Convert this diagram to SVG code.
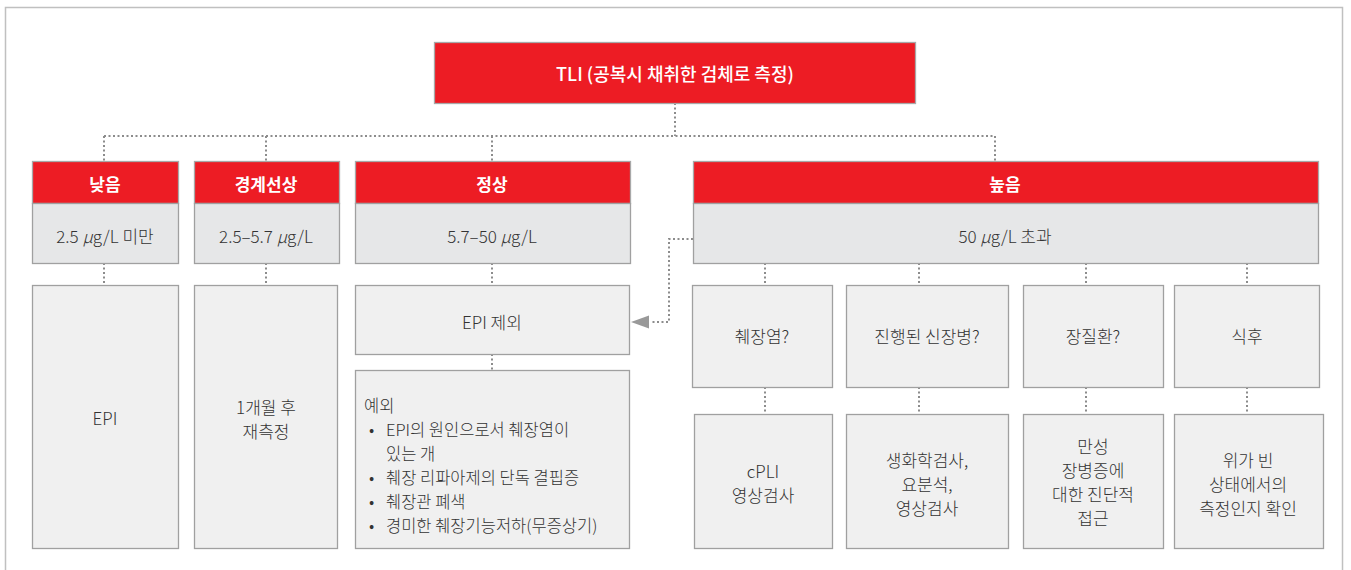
<svg xmlns="http://www.w3.org/2000/svg" width="1351" height="570" viewBox="0 0 1351 570">
<style>
text{font-family:"Noto Sans CJK KR","Noto Sans",sans-serif;fill:#333;font-size:17px;font-weight:300;text-anchor:middle;dominant-baseline:central}
.hd{fill:#ED1C24;stroke:#A8A8A8;stroke-width:1.3}
.ht{fill:#fff;font-weight:bold}
.tt{fill:#fff;font-weight:500;font-size:18px}
.g1{fill:#E6E7E8;stroke:#A0A0A0;stroke-width:1.3}
.g2{fill:#F0F0F0;stroke:#A0A0A0;stroke-width:1.3}
.dl{fill:none;stroke:#8C8C8C;stroke-width:2;stroke-dasharray:2 2.5}
.lt{text-anchor:start;font-size:16.5px}
.mu{font-style:italic}
</style>
<rect x="5.5" y="7.5" width="1337" height="580" fill="#fff" stroke="#C0C0C0" stroke-width="1.5"/>
<g id="connectors">
<path class="dl" d="M675,103 V136"/>
<path class="dl" d="M104,136 H995"/>
<path class="dl" d="M104,136 V161"/>
<path class="dl" d="M266,136 V161"/>
<path class="dl" d="M492,136 V161"/>
<path class="dl" d="M995,136 V161"/>
<path class="dl" d="M104,263 V285"/>
<path class="dl" d="M266,263 V285"/>
<path class="dl" d="M492,263 V285"/>
<path class="dl" d="M492,354 V370"/>
<path class="dl" d="M765,263 V285"/>
<path class="dl" d="M919,263 V285"/>
<path class="dl" d="M1086,263 V285"/>
<path class="dl" d="M1247,263 V285"/>
<path class="dl" d="M765,387 V414"/>
<path class="dl" d="M919,387 V414"/>
<path class="dl" d="M1086,387 V414"/>
<path class="dl" d="M1247,387 V414"/>
<path class="dl" d="M693,239 H669 V322 H650"/>
<path d="M649,315.5 L631,322 L649,328.5 Z" fill="#999"/>
</g>
<g id="tli">
<rect class="hd" x="434.5" y="42.5" width="481" height="61"/>
<text class="tt" x="675" y="73">TLI (공복시 채취한 검체로 측정)</text>
</g>
<g id="low">
<rect class="hd" x="32.5" y="161.5" width="146" height="42"/>
<text class="ht" x="105" y="183">낮음</text>
<rect class="g1" x="32.5" y="203.5" width="146" height="60"/>
<text x="105" y="235">2.5 <tspan class="mu">μ</tspan>g/L 미만</text>
</g>
<g id="border">
<rect class="hd" x="194.5" y="161.5" width="145" height="42"/>
<text class="ht" x="266" y="183">경계선상</text>
<rect class="g1" x="194.5" y="203.5" width="145" height="60"/>
<text x="266" y="235">2.5–5.7 <tspan class="mu">μ</tspan>g/L</text>
</g>
<g id="normal">
<rect class="hd" x="355.5" y="161.5" width="275" height="42"/>
<text class="ht" x="492" y="183">정상</text>
<rect class="g1" x="355.5" y="203.5" width="275" height="60"/>
<text x="492" y="235">5.7–50 <tspan class="mu">μ</tspan>g/L</text>
</g>
<g id="high">
<rect class="hd" x="693.5" y="161.5" width="625" height="42"/>
<text class="ht" x="1005" y="183">높음</text>
<rect class="g1" x="693.5" y="203.5" width="625" height="60"/>
<text x="1005" y="235">50 <tspan class="mu">μ</tspan>g/L 초과</text>
</g>
<g id="epi">
<rect class="g2" x="32.5" y="285.5" width="146" height="263"/>
<text x="105" y="417">EPI</text>
</g>
<g id="remeasure">
<rect class="g2" x="194.5" y="285.5" width="143" height="263"/>
<text x="266" y="406">1개월 후</text>
<text x="266" y="430">재측정</text>
</g>
<g id="epi-excl">
<rect class="g2" x="355.5" y="285.5" width="274" height="69"/>
<text x="492" y="321">EPI 제외</text>
</g>
<g id="exceptions">
<rect class="g2" x="355.5" y="370.5" width="274" height="178"/>
<text class="lt" x="364" y="405">예외</text>
<text class="lt" x="369" y="429">•<tspan x="386">EPI의 원인으로서 췌장염이</tspan></text>
<text class="lt" x="386" y="453">있는 개</text>
<text class="lt" x="369" y="477">•<tspan x="386">췌장 리파아제의 단독 결핍증</tspan></text>
<text class="lt" x="369" y="501">•<tspan x="386">췌장관 폐색</tspan></text>
<text class="lt" x="369" y="525">•<tspan x="386">경미한 췌장기능저하(무증상기)</tspan></text>
</g>
<g id="pancreatitis">
<rect class="g2" x="692.5" y="285.5" width="140" height="102"/>
<text x="762" y="335">췌장염?</text>
</g>
<g id="cpli">
<rect class="g2" x="694.5" y="414.5" width="138" height="134"/>
<text x="763" y="470">cPLI</text>
<text x="763" y="494">영상검사</text>
</g>
<g id="kidney">
<rect class="g2" x="846.5" y="285.5" width="162" height="102"/>
<text x="927" y="335">진행된 신장병?</text>
</g>
<g id="biochem">
<rect class="g2" x="846.5" y="414.5" width="162" height="134"/>
<text x="927" y="459">생화학검사,</text>
<text x="927" y="483">요분석,</text>
<text x="927" y="507">영상검사</text>
</g>
<g id="intestinal">
<rect class="g2" x="1023.5" y="285.5" width="140" height="102"/>
<text x="1093" y="335">장질환?</text>
</g>
<g id="chronic">
<rect class="g2" x="1023.5" y="414.5" width="140" height="134"/>
<text x="1093" y="445">만성</text>
<text x="1093" y="469">장병증에</text>
<text x="1093" y="493">대한 진단적</text>
<text x="1093" y="517">접근</text>
</g>
<g id="postprandial">
<rect class="g2" x="1174.5" y="285.5" width="145" height="102"/>
<text x="1247" y="335">식후</text>
</g>
<g id="fasting">
<rect class="g2" x="1174.5" y="414.5" width="149" height="134"/>
<text x="1248" y="459">위가 빈</text>
<text x="1248" y="483">상태에서의</text>
<text x="1248" y="507">측정인지 확인</text>
</g>
</svg>
